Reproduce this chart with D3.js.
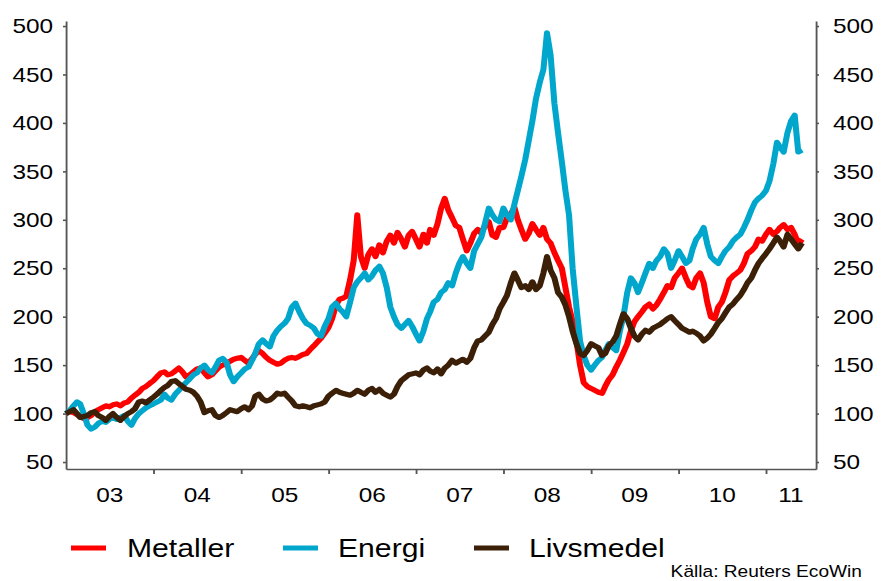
<!DOCTYPE html>
<html>
<head>
<meta charset="utf-8">
<script src="https://cdn.jsdelivr.net/npm/d3@7"></script>
<style>
  html, body { margin: 0; padding: 0; background: #fff; }
  #chart { width: 881px; height: 581px; }
  text { font-family: "Liberation Sans", Arial, sans-serif; fill: #000; }
</style>
</head>
<body>
<div id="chart"></div>
<script>
//Serier, halvmånadsvärden från jan 2003 till jun 2011 (index 2003=100)
const START_YEAR = 2003;
const yearLabels = ['03', '04', '05', '06', '07', '08', '09', '10', '11'];
const yTicks = [50, 100, 150, 200, 250, 300, 350, 400, 450, 500];
const seriesNames = ['Metaller', 'Energi', 'Livsmedel'];

const metaller = [
  100,102,101,99,97,95,96,98,102,104,106,108,107,109,110,108,111,112,116,119,122,126,128,131,
  134,138,142,143,140,141,144,147,143,138,140,143,146,147,142,138,140,144,148,150,152,154,156,157,
  158,155,152,157,161,165,162,158,155,153,151,152,155,157,158,157,159,161,162,166,170,174,178,183,
  189,198,212,218,219,221,238,258,305,262,250,264,270,262,274,266,278,284,276,287,280,272,284,288,
  280,272,285,276,290,284,296,312,322,310,302,294,292,280,268,276,286,290,286,294,298,284,282,292,
  292,302,306,313,300,290,280,286,296,290,284,292,280,276,266,258,250,230,210,195,175,150,132,128,
  126,124,122,121,128,135,140,148,155,163,172,185,195,200,205,210,213,208,212,218,225,232,230,240,
  245,250,240,232,230,240,245,235,215,200,198,210,215,225,238,242,245,248,255,265,268,272,280,278,
  285,290,285,288,292,295,290,292,285,275,280
];

const energi = [
  100,103,108,112,110,100,88,84,86,90,92,91,94,96,94,96,98,92,88,95,100,103,106,108,
  110,112,114,120,116,114,120,124,128,132,136,140,142,147,150,145,142,148,155,157,153,140,133,138,
  142,146,148,155,162,172,176,172,169,180,186,190,193,198,210,214,205,198,193,191,188,182,180,190,
  198,210,214,208,205,200,215,230,236,240,245,238,242,248,252,245,230,210,200,192,188,192,196,190,
  182,175,185,198,205,215,218,225,228,235,232,245,255,262,255,250,268,275,282,296,312,305,300,298,
  312,305,300,316,330,345,362,382,402,425,442,455,493,470,420,390,360,330,305,250,210,175,160,150,
  145,150,155,158,165,172,168,165,185,200,225,240,235,225,235,245,255,250,258,262,270,265,250,258,
  268,262,255,258,270,280,285,292,275,262,258,255,262,268,272,278,282,285,292,300,310,318,322,325,
  330,340,358,380,375,370,390,402,408,370,372
];

const livsmedel = [
  100,102,104,100,96,97,98,101,102,98,96,93,97,100,96,93,97,100,102,105,112,113,111,114,
  117,120,124,127,129,133,134,131,128,125,124,122,118,112,101,103,104,98,96,98,101,104,103,102,
  105,107,104,108,118,120,115,113,114,117,121,120,121,117,113,108,107,108,107,106,108,109,110,112,
  118,121,124,122,121,120,119,121,124,122,120,124,126,122,125,121,119,117,120,128,134,137,140,141,
  142,140,145,147,144,142,146,141,147,150,155,152,154,156,153,157,168,175,176,180,184,192,198,208,
  215,222,235,245,238,230,232,228,236,228,232,245,262,248,240,225,220,212,200,185,172,162,160,165,
  172,170,168,160,162,170,174,180,192,203,198,188,180,176,182,186,184,188,190,192,195,198,200,196,
  192,188,186,184,185,183,180,175,178,182,188,194,198,204,210,213,218,222,228,235,240,248,255,260,
  265,270,276,282,278,272,285,280,275,270,276
];

//Colores
const COLOR_METALLER = '#FF0000',
COLOR_ENERGI = '#00A6CC',
COLOR_LIVSMEDEL = '#3B1F07',
COLOR_AXIS = '#555555';

//Originalbilden är horisontellt utdragen, så allt ritas i en smalare ruta och sträcks ut
const SX = 1.16;
const W = 881, H = 581;
const px = function(v) { return v / SX; };

//Halvmånadsdatum (1:a och 16:e)
function semiMonth(i) {
    let year = START_YEAR + Math.floor(i / 24);
    let month = Math.floor((i % 24) / 2);
    return new Date(Date.UTC(year, month, i % 2 ? 16 : 1));
}

let svg = d3.select('#chart')
    .append('svg')
        .attr('width', W)
        .attr('height', H)
        .attr('viewBox', '0 0 ' + (W / SX) + ' ' + H)
        .attr('preserveAspectRatio', 'none');

let xStart = new Date(Date.UTC(2003, 0, 1)),
    xEnd = new Date(Date.UTC(2011, 6, 29));

let x = d3.scaleUtc()
    .domain([xStart, xEnd])
    .range([px(66), px(816)]);

let y = d3.scaleLinear()
    .domain([42.8, 505.2])
    .range([469, 21]);

//Axlar
svg.append('g')
    .attr('class', 'y-left')
    .attr('transform', 'translate(' + px(66) + ',0)')
    .call(d3.axisLeft(y).tickValues(yTicks).tickSize(px(3)).tickSizeOuter(0).tickPadding(px(10)));

svg.append('g')
    .attr('class', 'y-right')
    .attr('transform', 'translate(' + px(816) + ',0)')
    .call(d3.axisRight(y).tickValues(yTicks).tickSize(px(3)).tickSizeOuter(0).tickPadding(px(14)));

let years = d3.utcYear.range(new Date(Date.UTC(2004, 0, 1)), new Date(Date.UTC(2012, 0, 1)));

svg.append('g')
    .attr('class', 'x-axis')
    .attr('transform', 'translate(0,469)')
    .call(d3.axisBottom(x).tickValues(years).tickSize(5).tickSizeOuter(0).tickFormat(''));

svg.selectAll('.domain, .tick line')
    .attr('stroke', COLOR_AXIS)
    .attr('stroke-width', 1.6);

svg.selectAll('.y-left text, .y-right text')
    .style('font-size', '21px')
    .attr('fill', '#000');

//Årsetiketter mitt i varje år
svg.append('g')
    .selectAll('text')
    .data(yearLabels)
    .enter()
    .append('text')
    .attr('x', function(d, i) {
        let a = new Date(Date.UTC(START_YEAR + i, 0, 1));
        let b = new Date(Date.UTC(START_YEAR + i + 1, 0, 1));
        if (b > xEnd) { b = xEnd; }
        return (x(a) + x(b)) / 2;
    })
    .attr('y', 502)
    .attr('text-anchor', 'middle')
    .style('font-size', '21px')
    .text(function(d) { return d; });

//Linjer
let dataSets = [
    { name: seriesNames[0], values: metaller, color: COLOR_METALLER },
    { name: seriesNames[1], values: energi, color: COLOR_ENERGI },
    { name: seriesNames[2], values: livsmedel, color: COLOR_LIVSMEDEL }
];

let line = d3.line()
    .x(function(d, i) { return x(semiMonth(i)); })
    .y(function(d) { return y(d); });

svg.append('g')
    .attr('class', 'lines')
    .selectAll('path')
    .data(dataSets)
    .enter()
    .append('path')
    .attr('fill', 'none')
    .attr('stroke', function(d) { return d.color; })
    .attr('stroke-width', 5.2)
    .attr('stroke-linejoin', 'round')
    .attr('d', function(d) { return line(d.values); });

//Legend
let legendX = [{ l: 71, t: 127 }, { l: 283, t: 338 }, { l: 474, t: 529 }];

let legend = svg.append('g')
    .attr('class', 'legend')
    .selectAll('g')
    .data(dataSets)
    .enter()
    .append('g');

legend.append('line')
    .attr('x1', function(d, i) { return px(legendX[i].l); })
    .attr('x2', function(d, i) { return px(legendX[i].l + 35); })
    .attr('y1', 548)
    .attr('y2', 548)
    .attr('stroke', function(d) { return d.color; })
    .attr('stroke-width', 5);

legend.append('text')
    .attr('x', function(d, i) { return px(legendX[i].t); })
    .attr('y', 557)
    .style('font-size', '26px')
    .text(function(d) { return d.name; });

svg.append('text')
    .attr('x', px(862))
    .attr('y', 577)
    .attr('text-anchor', 'end')
    .style('font-size', '16.5px')
    .text('Källa: Reuters EcoWin');
</script>
</body>
</html>
